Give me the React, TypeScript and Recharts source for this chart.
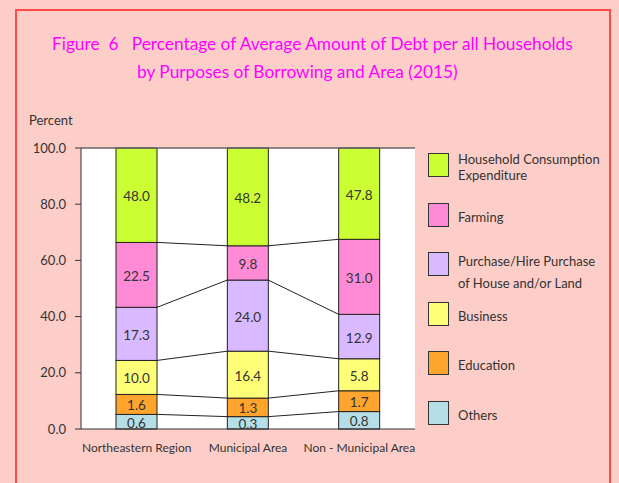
import React from "react";
import { BarChart, Bar, XAxis, YAxis, CartesianGrid, ReferenceLine, LabelList } from "recharts";

// ---------- data ----------
const categories = ["Northeastern Region", "Municipal Area", "Non - Municipal Area"];

// printed percentages (labels)
const othersLabel = ["0.6", "0.3", "0.8"];
const educationLabel = ["1.6", "1.3", "1.7"];
const businessLabel = ["10.0", "16.4", "5.8"];
const purchaseLabel = ["17.3", "24.0", "12.9"];
const farmingLabel = ["22.5", "9.8", "31.0"];
const householdLabel = ["48.0", "48.2", "47.8"];

// segment heights as drawn in the figure (percent of axis)
const othersHeight = [5.2, 4.4, 6.2];
const educationHeight = [7.1, 6.6, 7.4];
const businessHeight = [12.1, 16.7, 11.4];
const purchaseHeight = [18.9, 25.3, 15.8];
const farmingHeight = [23.1, 12.2, 26.7];
const householdHeight = [33.6, 34.8, 32.5];

const yTicks = [0, 20, 40, 60, 80, 100];

const seriesKeys = ["others", "education", "business", "purchase", "farming", "household"];
const seriesLegend = [
  ["Others"],
  ["Education"],
  ["Business"],
  ["Purchase/Hire Purchase", "of House and/or Land"],
  ["Farming"],
  ["Household Consumption", "Expenditure"],
];
const seriesColors = ["#B6DEE6", "#FFA42C", "#FFFF77", "#D9B9FF", "#FF8AD6", "#CCFF33"];
const seriesHeights = [othersHeight, educationHeight, businessHeight, purchaseHeight, farmingHeight, householdHeight];
const seriesLabels = [othersLabel, educationLabel, businessLabel, purchaseLabel, farmingLabel, householdLabel];

const SERIES = seriesKeys.map((key, i) => ({
  key,
  legend: seriesLegend[i],
  color: seriesColors[i],
  heights: seriesHeights[i],
  labels: seriesLabels[i],
}));

const data = categories.map((category, i) => {
  const row: any = { category };
  SERIES.forEach((s) => {
    row[s.key] = s.heights[i];
    row[s.key + "Label"] = s.labels[i];
  });
  return row;
});

// ---------- layout ----------
const W = 619;
const H = 483;
const FONT = "Lato, 'DejaVu Sans', sans-serif";
const Y_W = 60;
const X_H = 30;
const MARGIN = { top: 148, right: 204, bottom: H - 429 - X_H, left: 81 - Y_W };
const PLOT_W = W - MARGIN.left - MARGIN.right - Y_W;
const STEP = PLOT_W / categories.length;

function makeShape(sIdx: number) {
  return (props: any) => {
    const { x, y, width, height, index, fill } = props;
    const s = SERIES[sIdx];
    const v = s.heights[index];
    const k = v > 0 ? height / v : 0;
    const cum = (i: number) => SERIES.slice(0, sIdx + 1).reduce((a, ss) => a + ss.heights[i], 0);
    let line = null;
    if (index < categories.length - 1 && sIdx < SERIES.length - 1) {
      const yNext = y + (cum(index) - cum(index + 1)) * k;
      line = <line x1={x + width} y1={y} x2={x + STEP} y2={yNext} stroke="#222" strokeWidth={1} />;
    }
    return (
      <g>
        <rect x={x} y={y} width={width} height={height} fill={fill} stroke="#222" strokeWidth={1} />
        {line}
      </g>
    );
  };
}

const renderLabel = (props: any) => {
  const { x, y, width, height, value } = props;
  return (
    <text
      x={x + width / 2}
      y={y + height / 2 + 1}
      textAnchor="middle"
      dominantBaseline="central"
      fontFamily={FONT}
      fontSize={13.5}
      fill="#333"
    >
      {value}
    </text>
  );
};

export default function App() {
  const legendOrder = [...SERIES].reverse();
  return (
    <div style={{ position: "absolute", left: 0, top: 0, width: W, height: H, background: "#FDCEC7", overflow: "hidden" }}>
      <div
        style={{
          position: "absolute",
          left: 15,
          top: 9,
          width: 592,
          height: 520,
          border: "2px solid #FF4A4A",
        }}
      />
      <div style={{ position: "absolute", left: 52, top: 34, fontFamily: FONT, fontSize: 17.3, color: "#FF00FF", whiteSpace: "pre", lineHeight: "20px" }}>
        {"Figure  6   Percentage of Average Amount of Debt per all Households"}
      </div>
      <div style={{ position: "absolute", left: 137, top: 62, fontFamily: FONT, fontSize: 17.3, color: "#FF00FF", whiteSpace: "pre", lineHeight: "20px" }}>
        {"by Purposes of Borrowing and Area (2015)"}
      </div>
      <div style={{ position: "absolute", left: 29, top: 112, fontFamily: FONT, fontSize: 13, color: "#333", lineHeight: "16px" }}>
        Percent
      </div>
      <div style={{ position: "absolute", left: 0, top: 0 }}>
        <BarChart width={W} height={H} data={data} margin={MARGIN} barSize={41}>
          <CartesianGrid fill="#FFFFFF" horizontal={false} vertical={false} />
          <XAxis
            dataKey="category"
            height={X_H}
            tickLine={false}
            tickSize={0}
            tickMargin={14}
            axisLine={{ stroke: "#333" }}
            tick={{ fontFamily: FONT, fontSize: 12, fill: "#333" }}
            interval={0}
          />
          <YAxis
            width={Y_W}
            domain={[0, 100]}
            ticks={yTicks}
            tickFormatter={(v: number) => v.toFixed(1)}
            tickSize={6}
            tickMargin={9}
            tickLine={{ stroke: "#333" }}
            axisLine={{ stroke: "#333" }}
            tick={{ fontFamily: FONT, fontSize: 13, fill: "#333" }}
            interval={0}
          />
          <YAxis
            yAxisId="r"
            orientation="right"
            width={0}
            domain={[0, 100]}
            tick={false}
            tickLine={false}
            axisLine={{ stroke: "#9A9A9A", strokeWidth: 2 }}
          />
          <ReferenceLine y={100} stroke="#666" strokeWidth={1.5} />
          {SERIES.map((s, i) => (
            <Bar key={s.key} dataKey={s.key} stackId="a" fill={s.color} isAnimationActive={false} shape={makeShape(i)}>
              <LabelList dataKey={s.key + "Label"} content={renderLabel} />
            </Bar>
          ))}
        </BarChart>
      </div>
      {legendOrder.map((s, j) => {
        const top = 153 + j * 49.6;
        const multi = s.legend.length > 1;
        const lh = s.key === "purchase" ? 22 : 16;
        const textTop = multi ? top - 2 : top + 6;
        return (
          <React.Fragment key={s.key}>
            <div
              style={{
                position: "absolute",
                left: 428,
                top,
                width: 21,
                height: 24,
                boxSizing: "border-box",
                border: "1px solid #333",
                background: s.color,
              }}
            />
            <div
              style={{
                position: "absolute",
                left: 458,
                top: textTop,
                fontFamily: FONT,
                fontSize: 13,
                color: "#333",
                lineHeight: lh + "px",
                whiteSpace: "pre",
              }}
            >
              {s.legend.map((l, k) => (
                <div key={k}>{l}</div>
              ))}
            </div>
          </React.Fragment>
        );
      })}
    </div>
  );
}
